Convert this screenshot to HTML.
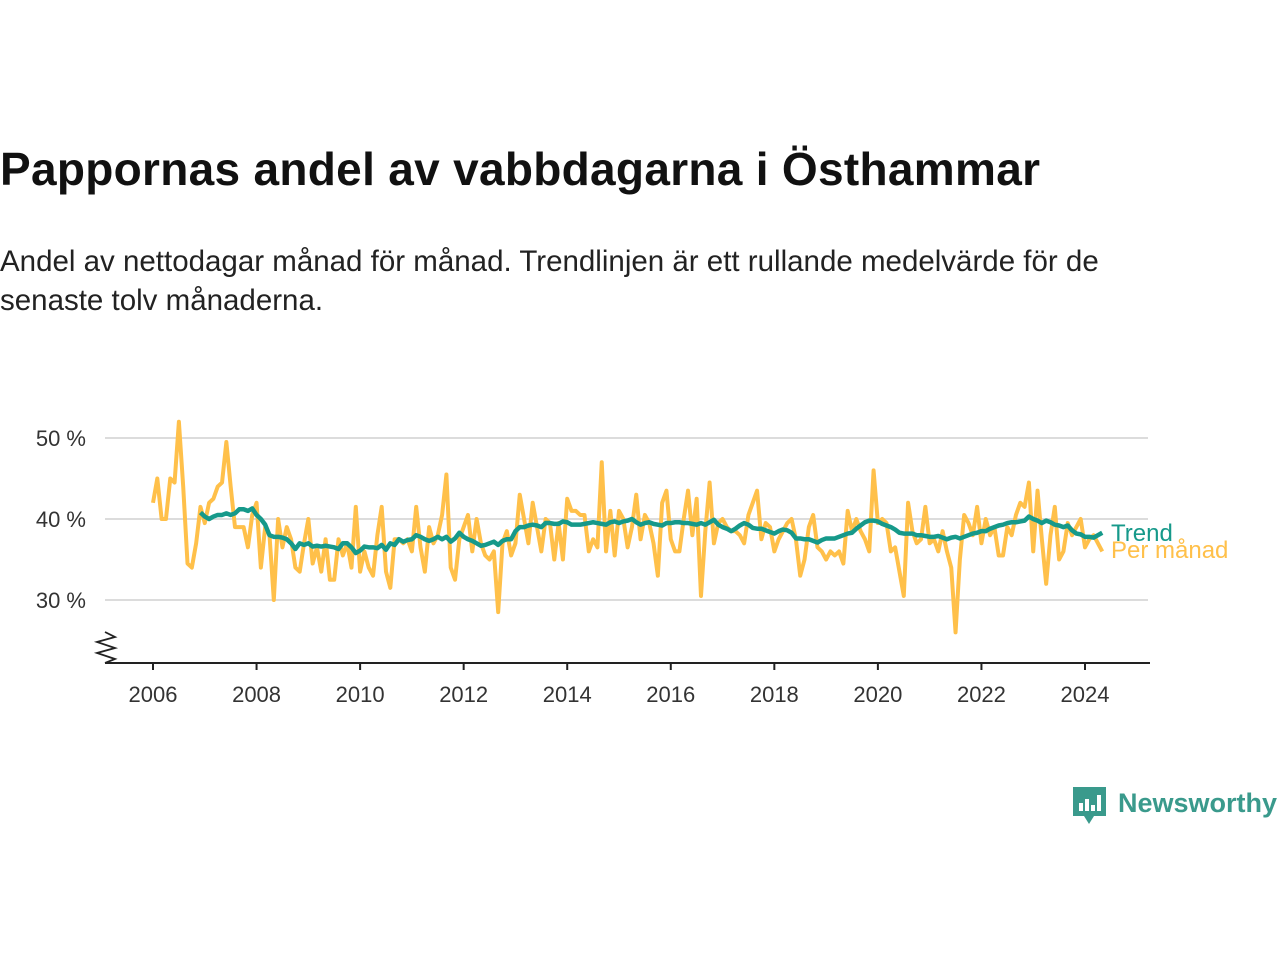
<!DOCTYPE html>
<html><head><meta charset="utf-8"><style>
body{margin:0;background:#fff;width:1280px;height:960px;overflow:hidden;font-family:"Liberation Sans","DejaVu Sans",sans-serif;}
#title{position:absolute;left:0;top:142px;font-size:46px;font-weight:bold;color:#111;margin:0;letter-spacing:0.3px}
#sub{position:absolute;left:0;top:242px;font-size:29.5px;color:#222;line-height:39px;width:1280px;white-space:nowrap}
svg{position:absolute;left:0;top:0}
</style></head><body>
<h1 id="title">Pappornas andel av vabbdagarna i Östhammar</h1>
<div id="sub">Andel av nettodagar månad för månad. Trendlinjen är ett rullande medelvärde för de<br>senaste tolv månaderna.</div>
<svg id="chart" width="1280" height="960"></svg>
<script>
const monthly=[42,45,40,40,45,44.5,52,44,34.5,34,37,41.5,
39.5,42,42.5,44,44.5,49.5,44,39,39,39,36.5,40.5,
42,34,39,38,30,40,36.5,39,37.5,34,33.5,37,
40,34.5,36.5,33.5,37.5,32.5,32.5,37.5,35.5,37,34,41.5,
33.5,36,34,33,38,41.5,33.5,31.5,37.5,37.5,37,37.5,
36,41.5,36.5,33.5,39,37,38,40.5,45.5,34,32.5,37.5,
39,40.5,36,40,37,35.5,35,36,28.5,37,38.5,35.5,
37,43,40,37,42,39,36,40,39.5,35,39.5,35,
42.5,41,41,40.5,40.5,36,37.5,36.5,47,36,41,35.5,
41,40,36.5,39,43,37.5,40.5,39.5,37,33,42,43.5,
37.5,36,36,40,43.5,38,42.5,30.5,38.5,44.5,37,39.5,
40,39,38.5,38.5,38,37,40.5,42,43.5,37.5,39.5,39,
36,37.5,38.5,39.5,40,37.5,33,35,39,40.5,36.5,36,
35,36,35.5,36,34.5,41,38.5,40,38.5,37.5,36,46,
39.5,40,39.5,36,36.5,33.5,30.5,42,38.5,37,37.5,41.5,
37,37.5,36,38.5,36,34,26,35,40.5,39.5,38,41.5,
37,40,38,39,35.5,35.5,39,38,40.5,42,41.5,44.5,
36,43.5,37.5,32,38,41.5,35,36,39.5,38,39,40,
36.5,37.5,38,37,36];
const trendStart=11;
const trend=[40.8,
40.3,40.0,40.3,40.5,40.5,40.7,40.5,40.7,41.2,41.2,41.0,41.3,
40.5,40.0,39.3,38.0,37.8,37.8,37.7,37.5,37.0,36.3,37.0,36.8,
37.0,36.6,36.7,36.6,36.7,36.6,36.5,36.3,37.0,37.0,36.5,35.8,
36.1,36.6,36.5,36.5,36.4,36.8,36.2,37.0,36.8,37.5,37.2,37.4,
37.5,38.0,37.8,37.5,37.3,37.5,37.8,37.5,37.8,37.2,37.6,38.3,
37.8,37.5,37.3,37.0,36.7,36.8,37.0,37.2,36.8,37.3,37.5,37.5,
38.5,39.0,39.0,39.2,39.3,39.2,39.0,39.5,39.5,39.4,39.4,39.7,
39.6,39.3,39.3,39.3,39.4,39.5,39.6,39.5,39.4,39.3,39.6,39.7,
39.5,39.7,39.8,40.0,39.6,39.3,39.5,39.6,39.4,39.3,39.2,39.5,
39.5,39.6,39.6,39.5,39.5,39.4,39.3,39.5,39.3,39.6,39.9,39.3,
39.0,38.8,38.5,38.8,39.2,39.5,39.3,38.9,38.8,38.8,38.6,38.4,
38.2,38.5,38.7,38.6,38.3,37.6,37.6,37.5,37.5,37.3,37.1,37.4,
37.6,37.6,37.6,37.8,38.0,38.2,38.3,38.8,39.2,39.6,39.8,39.8,
39.7,39.4,39.2,39.0,38.7,38.3,38.2,38.2,38.2,38.0,38.0,37.9,
37.8,37.8,37.9,37.7,37.5,37.7,37.8,37.6,37.8,38.0,38.2,38.3,
38.5,38.5,38.8,39.0,39.2,39.3,39.5,39.6,39.6,39.7,39.8,40.3,
40.0,39.8,39.5,39.8,39.6,39.3,39.2,39.0,39.2,38.6,38.2,38.1,
37.8,37.8,37.7,38.0,38.3];
const yTicks=[30,40,50];
const yLabels=["30 %","40 %","50 %"];
const xTicks=[2006,2008,2010,2012,2014,2016,2018,2020,2022,2024];

const NS="http://www.w3.org/2000/svg";
const svg=document.getElementById('chart');
const X=m=>153+m*(1085-153)/216;
const Y=v=>519-(v-40)*8.1;
function mk(t,a,parent){const e=document.createElementNS(NS,t);for(const k in a)e.setAttribute(k,a[k]);(parent||svg).appendChild(e);return e;}

yTicks.forEach((t,i)=>{
  const g=mk('line',{x1:105,x2:1148,y1:Y(t),y2:Y(t),stroke:'#dcdcdc','stroke-width':2});
  
  
  const l=mk('text',{x:86,y:Y(t)+8,'text-anchor':'end','font-size':22,fill:'#333'});
  l.textContent=yLabels[i];
  
  
});
const ax=mk('line',{x1:105,x2:1150,y1:663,y2:663,stroke:'#222','stroke-width':2});


const br=mk('path',{d:'M105,632 L115,637 L97,642 L115,648 L97,653 L115,659 L105,663',fill:'none',stroke:'#222','stroke-width':1.8});


xTicks.forEach(yr=>{
  const x=X((yr-2006)*12);
  const t=mk('line',{x1:x,x2:x,y1:663,y2:670,stroke:'#222','stroke-width':2});
  
  
  const l=mk('text',{x:x,y:702,'text-anchor':'middle','font-size':22,fill:'#333'});
  l.textContent=yr;
  
  
});
const mp=mk('polyline',{points:monthly.map((v,i)=>X(i)+','+Y(v)).join(' '),fill:'none',stroke:'#ffc04a','stroke-width':4,'stroke-linejoin':'round'});


const tp=mk('polyline',{points:trend.map((v,i)=>X(i+trendStart)+','+Y(v)).join(' '),fill:'none',stroke:'#16998a','stroke-width':4.5,'stroke-linejoin':'round'});


const l1=mk('text',{x:1111,y:541,'font-size':24,fill:'#16998a'});l1.textContent='Trend';


const l2=mk('text',{x:1111,y:558,'font-size':24,fill:'#ffc04a'});l2.textContent='Per månad';


const logo=mk('g',{});


mk('path',{d:'M1073,787 h33 v29 h-12 l-5,8 l-5,-8 h-11 z',fill:'#3a9a8c'},logo);
[[1079,803,4,8],[1085,799,4,12],[1091,805,4,6],[1097,795,4,16]].forEach(r=>mk('rect',{x:r[0],y:r[1],width:r[2],height:r[3],fill:'#fff'},logo));
const lt=mk('text',{x:1118,y:812,'font-size':27,'font-weight':'bold',fill:'#3a9a8c'},logo);lt.textContent='Newsworthy';
</script>
</body></html>
